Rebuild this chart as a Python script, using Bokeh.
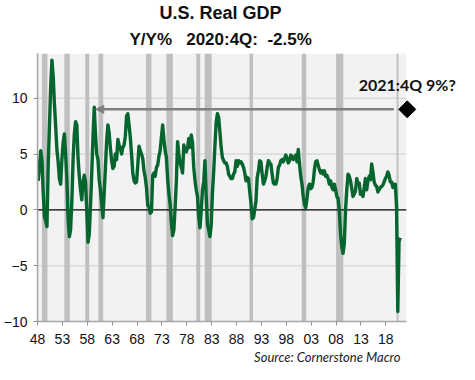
import math
from bokeh.plotting import figure
from bokeh.models import Range1d, FixedTicker, BoxAnnotation, Arrow, NormalHead, Title
from bokeh.core.properties import value
from bokeh.embed import file_html
from bokeh.resources import INLINE

# ---------------- data ----------------
title_line1 = "U.S. Real GDP"
title_line2 = "Y/Y%\u00a0\u00a0\u00a02020:4Q:\u00a0\u00a0-2.5%"
source_text = "Source: Cornerstone Macro"

first_year = 1948
# quarterly real GDP growth, year over year (%)
gdp_1940s = [2.6, 4.0, 5.3, 4.4, 1.5, -0.6, -1.0, -1.5]
gdp_1950s = [4.0, 7.5, 11.0, 13.4, 12.0, 9.5, 7.5, 5.4, 4.3, 2.8, 2.3, 4.5,
             6.0, 6.8, 5.0, 2.8, -0.8, -2.4, -1.8, 0.8, 4.5, 6.8, 7.9, 7.6,
             4.6, 3.0, 1.8, 0.9, 2.5, 3.1, 2.5, 0.0, -2.9, -2.2, 0.3, 3.3,
             6.5, 9.2, 6.8, 5.0]
gdp_1960s = [4.5, 2.7, 1.8, 0.5, -0.7, 1.5, 3.8, 6.2, 7.6, 6.9, 5.5, 4.4,
             3.7, 3.9, 5.0, 4.5, 6.3, 5.8, 5.5, 5.0, 5.6, 5.8, 6.6, 8.4,
             8.6, 7.6, 6.5, 5.0, 3.3, 2.6, 2.4, 2.5, 4.0, 5.7, 5.3, 5.0,
             4.6, 3.5, 2.9, 2.0]
gdp_1970s = [0.4, 0.3, -0.3, -0.2, 3.1, 3.3, 3.0, 3.8, 4.0, 4.8, 5.3, 6.5,
             7.6, 6.3, 5.3, 4.7, 2.8, 1.5, 0.5, -1.2, -2.3, -1.8, 0.2, 2.5,
             6.1, 5.0, 4.2, 3.8, 3.3, 5.8, 5.3, 5.2, 5.5, 6.4, 5.6, 6.7,
             6.0, 3.8, 2.6, 1.8]
gdp_1980s = [1.2, -0.6, -1.6, -0.1, 1.8, 2.5, 4.4, 1.2, -1.3, -1.8, -2.4, -1.4,
             1.5, 3.4, 5.7, 7.8, 8.6, 8.3, 7.0, 5.6, 4.7, 4.4, 4.2, 4.2,
             3.9, 3.2, 3.0, 2.8, 2.8, 3.2, 3.4, 4.4, 3.9, 4.4, 4.2, 4.3,
             4.1, 3.8, 3.3, 2.6]
gdp_1990s = [2.9, 2.8, 1.6, 0.6, -0.8, -0.7, 0.0, 0.8, 2.9, 3.5, 4.4, 4.3,
             3.2, 2.3, 2.6, 3.0, 3.8, 4.4, 4.2, 4.1, 3.2, 2.4, 2.3, 2.3,
             2.8, 3.8, 4.0, 4.4, 4.5, 4.3, 4.6, 4.9, 4.6, 4.2, 4.4, 4.9,
             4.8, 4.5, 4.6, 4.9]
gdp_2000s = [4.3, 5.4, 4.1, 3.0, 2.3, 1.2, 0.5, 0.2, 1.0, 2.0, 2.3, 1.9,
             2.0, 2.5, 3.6, 4.3, 4.4, 4.0, 3.6, 3.3, 3.5, 3.2, 3.5, 3.0,
             3.1, 2.8, 2.3, 2.6, 2.0, 1.8, 2.3, 1.8, 1.2, 1.0, 0.0, -2.2,
             -3.3, -3.9, -3.0, 0.0]
gdp_2010s = [1.8, 3.2, 3.0, 2.6, 1.9, 1.2, 1.4, 1.7, 2.8, 2.4, 2.4, 1.4,
             1.6, 1.2, 2.0, 2.8, 1.8, 2.6, 3.0, 2.7, 4.1, 3.4, 2.5, 2.2,
             2.1, 1.6, 1.8, 2.0, 2.1, 2.2, 2.5, 2.8, 3.0, 3.4, 3.1, 2.5,
             2.5, 2.0, 2.3, 2.3]
gdp_2020 = [0.3, -9.1, -2.8, -2.5]

# recession shading (start, end in years)
rec_start = [1948.9, 1953.4, 1957.6, 1960.25, 1969.8, 1973.9, 1979.9, 1981.6,
             1990.6, 2001.1, 2008.0, 2020.15]
rec_end = [1950.0, 1954.5, 1958.4, 1961.2, 1970.9, 1975.2, 1980.7, 1983.0,
           1991.3, 2002.0, 2009.45, 2020.55]

tick_years = [1948, 1953, 1958, 1963, 1968, 1973, 1978, 1983, 1988, 1993,
              1998, 2003, 2008, 2013, 2018]
tick_labels = ["48", "53", "58", "63", "68", "73", "78", "83", "88", "93",
               "98", "03", "08", "13", "18"]
y_ticks = [-10, -5, 0, 5, 10]
grid_levels = [-5, 5, 10]

# 2021:4Q projection
target_label = "2021:4Q 9%?"
target_x = 2022.3
target_value = 9.0
arrow_from = 2019.6
arrow_to = 1959.7

# ---------------- build ----------------
gdp = gdp_1940s + gdp_1950s + gdp_1960s + gdp_1970s + gdp_1980s + gdp_1990s + gdp_2000s + gdp_2010s + gdp_2020
qx = [first_year + i / 4 + 0.15 for i in range(len(gdp))]

AREA_END = 2022.1
X_END = 2032.8
GREEN = "#05652F"

p = figure(width=459, height=364, x_range=Range1d(first_year, X_END), y_range=Range1d(-10, 14),
           output_backend="svg", toolbar_location=None, title=title_line1,
           min_border_left=30, min_border_right=0, min_border_top=0, min_border_bottom=0,
           background_fill_color="white", border_fill_color="white")
p.outline_line_color = None
p.xgrid.visible = False
p.ygrid.visible = False

# outer title line
p.title.text_font = "Liberation Sans"
p.title.text_font_size = "18px"
p.title.text_font_style = "bold"
p.title.text_color = "#111111"
p.title.align = "left"
p.title.offset = 122
p.title.standoff = 0

# inner title line
t2 = Title(text=title_line2, align="left", offset=92, text_font="Liberation Sans",
           text_font_size="17px", text_font_style="bold", text_color="#111111", standoff=10)
p.add_layout(t2, "above")

src = Title(text=source_text, align="right", offset=59, text_font="Lato",
            text_font_size="13px", text_font_style="italic", text_color="#222222", standoff=0)
p.add_layout(src, "below")

# plot-area background
p.add_layout(BoxAnnotation(left=first_year, right=AREA_END, bottom=-10, top=14,
                           fill_color="#F2F2F2", fill_alpha=1, line_color=None, level="underlay"))

# grid lines
p.segment(x0=[first_year] * len(grid_levels), x1=[AREA_END] * len(grid_levels),
          y0=grid_levels, y1=grid_levels, line_color="#D9D9D9", line_width=1.5)

# recession bars
p.quad(left=rec_start, right=rec_end, bottom=-10, top=14, fill_color="#BFBFBF",
       line_color=None)

# zero line
p.segment(x0=[first_year], x1=[AREA_END], y0=[0], y1=[0], line_color="#000000", line_width=1.2)

# GDP line
p.line(qx, gdp, line_color=GREEN, line_width=3.4, line_join="round")

# arrow to the 9% level
p.add_layout(Arrow(end=NormalHead(size=8, fill_color="#808080", line_color="#808080"),
                   x_start=arrow_from, y_start=target_value, x_end=arrow_to, y_end=target_value,
                   line_color="#808080", line_width=2.5))

p.scatter([target_x], [target_value], marker="square", angle=math.pi / 4, size=12,
          color="#000000")
p.text([target_x], [target_value], text=[target_label], text_align="center",
       text_baseline="middle", y_offset=-25, text_font=value("Lato"),
       text_font_size="16px", text_font_style="bold", text_color="#111111")

# axes
p.xaxis.ticker = FixedTicker(ticks=tick_years)
p.xaxis.major_label_overrides = {y: l for y, l in zip(tick_years, tick_labels)}
p.xaxis.bounds = (first_year, AREA_END)
p.yaxis.ticker = FixedTicker(ticks=y_ticks)
for ax in (p.xaxis, p.yaxis):
    ax.minor_tick_line_color = None
    ax.major_tick_in = 0
    ax.major_tick_out = 4
    ax.major_tick_line_color = "#909090"
    ax.axis_line_color = "#A6A6A6"
    ax.axis_line_width = 1.5
    ax.major_label_text_font = "Liberation Sans"
    ax.major_label_text_font_size = "14px"
    ax.major_label_text_color = "#111111"
p.xaxis.major_label_standoff = 8
p.yaxis.major_label_standoff = 6

open("out.html", "w").write(file_html(p, INLINE))
